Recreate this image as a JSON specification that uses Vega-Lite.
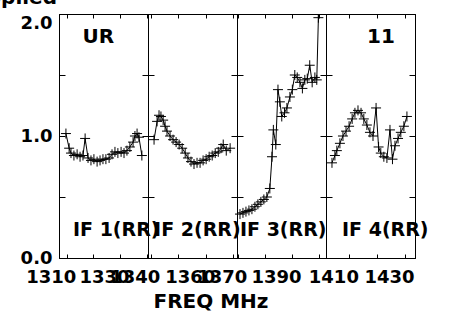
{
  "$schema": "https://vega.github.io/schema/vega-lite/v6.json",
  "width": 356,
  "height": 244,
  "autosize": {"type": "none"},
  "padding": {"left": 59, "top": 14, "right": 34, "bottom": 56},
  "background": "white",
  "config": {
    "view": {"stroke": "black", "strokeWidth": 1},
    "axis": {
      "labelFont": "DejaVu Sans", "labelFontWeight": "bold", "labelFontSize": 18, "labelColor": "black",
      "titleFont": "DejaVu Sans", "titleFontWeight": "bold", "titleFontSize": 20, "titleColor": "black",
      "tickColor": "black", "domainColor": "black", "tickWidth": 1, "domainWidth": 1,
      "grid": false, "labelOverlap": false, "labelFlush": false, "labelBound": false
    },
    "text": {"font": "DejaVu Sans", "fontWeight": "bold", "color": "black"}
  },
  "datasets": {
    "p1": [
      {"freq": 1309.7, "amp": 1.02}, {"freq": 1310.9, "amp": 0.90}, {"freq": 1311.6, "amp": 0.86},
      {"freq": 1312.7, "amp": 0.84}, {"freq": 1313.9, "amp": 0.85}, {"freq": 1315.0, "amp": 0.83},
      {"freq": 1316.1, "amp": 0.84}, {"freq": 1316.9, "amp": 0.98}, {"freq": 1318.0, "amp": 0.82},
      {"freq": 1319.1, "amp": 0.80}, {"freq": 1320.2, "amp": 0.81}, {"freq": 1321.4, "amp": 0.79},
      {"freq": 1322.5, "amp": 0.80}, {"freq": 1323.6, "amp": 0.81}, {"freq": 1324.7, "amp": 0.81},
      {"freq": 1325.9, "amp": 0.82}, {"freq": 1327.0, "amp": 0.85}, {"freq": 1328.1, "amp": 0.87},
      {"freq": 1329.2, "amp": 0.86}, {"freq": 1330.4, "amp": 0.87}, {"freq": 1331.5, "amp": 0.86},
      {"freq": 1332.6, "amp": 0.88}, {"freq": 1333.7, "amp": 0.91}, {"freq": 1334.9, "amp": 0.95},
      {"freq": 1335.6, "amp": 1.00}, {"freq": 1336.4, "amp": 1.02}, {"freq": 1337.1, "amp": 0.99},
      {"freq": 1338.2, "amp": 0.84}
    ],
    "p2": [
      {"freq": 1341.2, "amp": 0.97}, {"freq": 1342.3, "amp": 1.12}, {"freq": 1343.0, "amp": 1.17},
      {"freq": 1343.7, "amp": 1.16}, {"freq": 1344.5, "amp": 1.13}, {"freq": 1345.2, "amp": 1.08},
      {"freq": 1345.9, "amp": 1.04}, {"freq": 1347.0, "amp": 1.00}, {"freq": 1348.1, "amp": 0.97},
      {"freq": 1349.2, "amp": 0.95}, {"freq": 1350.3, "amp": 0.93}, {"freq": 1351.4, "amp": 0.90},
      {"freq": 1352.5, "amp": 0.86}, {"freq": 1353.5, "amp": 0.82}, {"freq": 1354.6, "amp": 0.79},
      {"freq": 1355.7, "amp": 0.77}, {"freq": 1356.8, "amp": 0.78}, {"freq": 1357.9, "amp": 0.78},
      {"freq": 1359.0, "amp": 0.80}, {"freq": 1360.1, "amp": 0.81}, {"freq": 1361.2, "amp": 0.83},
      {"freq": 1362.3, "amp": 0.84}, {"freq": 1363.4, "amp": 0.86}, {"freq": 1364.5, "amp": 0.87},
      {"freq": 1365.5, "amp": 0.90}, {"freq": 1366.3, "amp": 0.93}, {"freq": 1367.4, "amp": 0.88},
      {"freq": 1368.8, "amp": 0.90}
    ],
    "p3": [
      {"freq": 1370.8, "amp": 0.36}, {"freq": 1371.9, "amp": 0.37}, {"freq": 1373.0, "amp": 0.38},
      {"freq": 1374.1, "amp": 0.39}, {"freq": 1375.2, "amp": 0.40}, {"freq": 1376.3, "amp": 0.42},
      {"freq": 1377.4, "amp": 0.44}, {"freq": 1378.5, "amp": 0.46}, {"freq": 1379.6, "amp": 0.48},
      {"freq": 1380.7, "amp": 0.50}, {"freq": 1381.8, "amp": 0.57}, {"freq": 1382.6, "amp": 0.83},
      {"freq": 1383.1, "amp": 1.05}, {"freq": 1384.0, "amp": 0.93}, {"freq": 1384.8, "amp": 1.38},
      {"freq": 1385.5, "amp": 1.28}, {"freq": 1386.2, "amp": 1.16}, {"freq": 1387.2, "amp": 1.19},
      {"freq": 1388.1, "amp": 1.23}, {"freq": 1389.2, "amp": 1.32}, {"freq": 1390.1, "amp": 1.38},
      {"freq": 1391.0, "amp": 1.50}, {"freq": 1391.9, "amp": 1.48}, {"freq": 1392.9, "amp": 1.44},
      {"freq": 1393.8, "amp": 1.39}, {"freq": 1394.7, "amp": 1.46}, {"freq": 1395.6, "amp": 1.47},
      {"freq": 1396.5, "amp": 1.58}, {"freq": 1397.4, "amp": 1.44}, {"freq": 1398.4, "amp": 1.48},
      {"freq": 1399.1, "amp": 1.46}, {"freq": 1399.7, "amp": 1.97}, {"freq": 1400.0, "amp": 3.0}
    ],
    "p4": [
      {"freq": 1403.75, "amp": 0.78}, {"freq": 1404.8, "amp": 0.84}, {"freq": 1405.5, "amp": 0.88},
      {"freq": 1406.6, "amp": 0.94}, {"freq": 1407.7, "amp": 1.00}, {"freq": 1408.8, "amp": 1.04},
      {"freq": 1409.9, "amp": 1.08}, {"freq": 1411.0, "amp": 1.14}, {"freq": 1412.0, "amp": 1.19},
      {"freq": 1413.1, "amp": 1.21}, {"freq": 1414.2, "amp": 1.19}, {"freq": 1415.2, "amp": 1.14},
      {"freq": 1416.3, "amp": 1.09}, {"freq": 1417.4, "amp": 1.03}, {"freq": 1418.5, "amp": 1.00},
      {"freq": 1419.6, "amp": 1.23}, {"freq": 1420.5, "amp": 0.91}, {"freq": 1421.3, "amp": 0.86},
      {"freq": 1422.4, "amp": 0.83}, {"freq": 1423.5, "amp": 0.82}, {"freq": 1424.6, "amp": 1.05},
      {"freq": 1425.5, "amp": 0.81}, {"freq": 1426.4, "amp": 0.92}, {"freq": 1427.5, "amp": 0.98},
      {"freq": 1428.5, "amp": 1.03}, {"freq": 1429.6, "amp": 1.08}, {"freq": 1430.7, "amp": 1.16}
    ]
  },
  "layer": [
    {
      "data": {"name": "p1"},
      "layer": [
        {
          "mark": {"type": "line", "color": "black", "strokeWidth": 1, "clip": true},
          "encoding": {
            "x": {"field": "freq", "type": "quantitative",
              "scale": {"domain": [1307.1, 1340.5], "range": [0, 89], "nice": false, "zero": false},
              "axis": {"orient": "bottom", "values": [1310, 1320, 1330, 1340], "format": "d", "tickSize": -4, "labelPadding": 14, "labelOffset": -16,
                "labelExpr": "datum.value == 1310 || datum.value == 1330 ? datum.label : ''", "title": null}},
            "y": {"field": "amp", "type": "quantitative",
              "scale": {"domain": [0, 2], "nice": false, "zero": false},
              "axis": {"orient": "left", "values": [0, 0.5, 1, 1.5, 2], "format": ".1f", "tickSize": -6, "labelPadding": 13,
                "labelExpr": "datum.value == 0 || datum.value == 1 || datum.value == 2 ? datum.label : ''",
                "labelBaseline": {"condition": {"test": "datum.value == 2", "value": "top"}, "value": "middle"},
                "title": null}}
          }
        },
        {
          "mark": {"type": "point", "shape": "M-1,0L1,0M0,-1L0,1", "size": 100, "filled": false, "color": "black", "strokeWidth": 1, "opacity": 1, "clip": true},
          "encoding": {
            "x": {"field": "freq", "type": "quantitative",
              "scale": {"domain": [1307.1, 1340.5], "range": [0, 89], "nice": false, "zero": false},
              "axis": {"orient": "top", "values": [1310, 1320, 1330, 1340], "tickSize": -4, "labels": false, "title": null}},
            "y": {"field": "amp", "type": "quantitative",
              "scale": {"domain": [0, 2], "nice": false, "zero": false},
              "axis": {"orient": "right", "offset": -267, "values": [0, 0.5, 1, 1.5, 2], "tickSize": -6, "labels": false, "title": null}}
          }
        },
        {
          "data": {"values": [{}]},
          "mark": {"type": "text", "text": "UR", "fontSize": 20, "align": "center", "baseline": "alphabetic"},
          "encoding": {
            "x": {"datum": 1321.9, "type": "quantitative", "axis": null, "scale": {"domain": [1307.1, 1340.5], "range": [0, 89], "nice": false, "zero": false}},
            "y": {"datum": 1.762, "type": "quantitative", "axis": null, "scale": {"domain": [0, 2], "nice": false, "zero": false}}
          }
        },
        {
          "data": {"values": [{}]},
          "mark": {"type": "text", "text": "IF 1(RR)", "fontSize": 19, "align": "left", "baseline": "alphabetic"},
          "encoding": {
            "x": {"datum": 1312.35, "type": "quantitative", "axis": null, "scale": {"domain": [1307.1, 1340.5], "range": [0, 89], "nice": false, "zero": false}},
            "y": {"datum": 0.18, "type": "quantitative", "axis": null, "scale": {"domain": [0, 2], "nice": false, "zero": false}}
          }
        },
        {
          "data": {"values": [{}]},
          "mark": {"type": "text", "text": "Applied", "fontSize": 20, "align": "right", "baseline": "alphabetic", "dx": -2, "dy": -10},
          "encoding": {
            "x": {"datum": 1307.1, "type": "quantitative", "axis": null, "scale": {"domain": [1307.1, 1340.5], "range": [0, 89], "nice": false, "zero": false}},
            "y": {"datum": 2, "type": "quantitative", "axis": null, "scale": {"domain": [0, 2], "nice": false, "zero": false}}
          }
        }
      ],
      "resolve": {"axis": {"x": "independent", "y": "independent"}}
    },
    {
      "data": {"name": "p2"},
      "layer": [
        {
          "mark": {"type": "line", "color": "black", "strokeWidth": 1, "clip": true},
          "encoding": {
            "x": {"field": "freq", "type": "quantitative",
              "scale": {"domain": [1339.0, 1371.3], "range": [89, 178], "nice": false, "zero": false},
              "axis": {"orient": "bottom", "values": [1340, 1350, 1360, 1370], "format": "d", "tickSize": -4, "labelPadding": 14, "labelOffset": -16,
                "labelExpr": "datum.value == 1340 || datum.value == 1360 ? datum.label : ''",
                "title": "FREQ MHz", "titleX": 151.5, "titleY": 49, "titleBaseline": "alphabetic", "titleAlign": "center"}},
            "y": {"field": "amp", "type": "quantitative",
              "scale": {"domain": [0, 2], "nice": false, "zero": false},
              "axis": {"orient": "left", "offset": -89, "values": [0, 0.5, 1, 1.5, 2], "tickSize": -6, "labels": false, "title": null}}
          }
        },
        {
          "mark": {"type": "point", "shape": "M-1,0L1,0M0,-1L0,1", "size": 100, "filled": false, "color": "black", "strokeWidth": 1, "opacity": 1, "clip": true},
          "encoding": {
            "x": {"field": "freq", "type": "quantitative",
              "scale": {"domain": [1339.0, 1371.3], "range": [89, 178], "nice": false, "zero": false},
              "axis": {"orient": "top", "values": [1340, 1350, 1360, 1370], "tickSize": -4, "labels": false, "title": null}},
            "y": {"field": "amp", "type": "quantitative",
              "scale": {"domain": [0, 2], "nice": false, "zero": false},
              "axis": {"orient": "right", "offset": -178, "values": [0, 0.5, 1, 1.5, 2], "tickSize": -6, "labels": false, "title": null}}
          }
        },
        {
          "data": {"values": [{}]},
          "mark": {"type": "text", "text": "IF 2(RR)", "fontSize": 19, "align": "left", "baseline": "alphabetic"},
          "encoding": {
            "x": {"datum": 1341.2, "type": "quantitative", "axis": null, "scale": {"domain": [1339.0, 1371.3], "range": [89, 178], "nice": false, "zero": false}},
            "y": {"datum": 0.18, "type": "quantitative", "axis": null, "scale": {"domain": [0, 2], "nice": false, "zero": false}}
          }
        }
      ],
      "resolve": {"axis": {"x": "independent", "y": "independent"}}
    },
    {
      "data": {"name": "p3"},
      "layer": [
        {
          "mark": {"type": "line", "color": "black", "strokeWidth": 1, "clip": true},
          "encoding": {
            "x": {"field": "freq", "type": "quantitative",
              "scale": {"domain": [1369.7, 1402.5], "range": [178, 267], "nice": false, "zero": false},
              "axis": {"orient": "bottom", "values": [1370, 1380, 1390, 1400], "format": "d", "tickSize": -4, "labelPadding": 14, "labelOffset": -16,
                "labelExpr": "datum.value == 1370 || datum.value == 1390 ? datum.label : ''", "title": null}},
            "y": {"field": "amp", "type": "quantitative",
              "scale": {"domain": [0, 2], "nice": false, "zero": false},
              "axis": {"orient": "left", "offset": -178, "values": [0, 0.5, 1, 1.5, 2], "tickSize": -6, "labels": false, "title": null}}
          }
        },
        {
          "mark": {"type": "point", "shape": "M-1,0L1,0M0,-1L0,1", "size": 100, "filled": false, "color": "black", "strokeWidth": 1, "opacity": 1, "clip": true},
          "encoding": {
            "x": {"field": "freq", "type": "quantitative",
              "scale": {"domain": [1369.7, 1402.5], "range": [178, 267], "nice": false, "zero": false},
              "axis": {"orient": "top", "values": [1370, 1380, 1390, 1400], "tickSize": -4, "labels": false, "title": null}},
            "y": {"field": "amp", "type": "quantitative",
              "scale": {"domain": [0, 2], "nice": false, "zero": false},
              "axis": {"orient": "right", "offset": -89, "values": [0, 0.5, 1, 1.5, 2], "tickSize": -6, "labels": false, "title": null}}
          }
        },
        {
          "data": {"values": [{}]},
          "mark": {"type": "text", "text": "IF 3(RR)", "fontSize": 19, "align": "left", "baseline": "alphabetic"},
          "encoding": {
            "x": {"datum": 1370.8, "type": "quantitative", "axis": null, "scale": {"domain": [1369.7, 1402.5], "range": [178, 267], "nice": false, "zero": false}},
            "y": {"datum": 0.18, "type": "quantitative", "axis": null, "scale": {"domain": [0, 2], "nice": false, "zero": false}}
          }
        }
      ],
      "resolve": {"axis": {"x": "independent", "y": "independent"}}
    },
    {
      "data": {"name": "p4"},
      "layer": [
        {
          "mark": {"type": "line", "color": "black", "strokeWidth": 1, "clip": true},
          "encoding": {
            "x": {"field": "freq", "type": "quantitative",
              "scale": {"domain": [1401.6, 1433.6], "range": [267, 356], "nice": false, "zero": false},
              "axis": {"orient": "bottom", "values": [1410, 1420, 1430], "format": "d", "tickSize": -4, "labelPadding": 14, "labelOffset": -16,
                "labelExpr": "datum.value == 1410 || datum.value == 1430 ? datum.label : ''", "title": null}},
            "y": {"field": "amp", "type": "quantitative",
              "scale": {"domain": [0, 2], "nice": false, "zero": false},
              "axis": {"orient": "left", "offset": -267, "values": [0, 0.5, 1, 1.5, 2], "tickSize": -6, "labels": false, "title": null}}
          }
        },
        {
          "mark": {"type": "point", "shape": "M-1,0L1,0M0,-1L0,1", "size": 100, "filled": false, "color": "black", "strokeWidth": 1, "opacity": 1, "clip": true},
          "encoding": {
            "x": {"field": "freq", "type": "quantitative",
              "scale": {"domain": [1401.6, 1433.6], "range": [267, 356], "nice": false, "zero": false},
              "axis": {"orient": "top", "values": [1410, 1420, 1430], "tickSize": -4, "labels": false, "title": null}},
            "y": {"field": "amp", "type": "quantitative",
              "scale": {"domain": [0, 2], "nice": false, "zero": false},
              "axis": {"orient": "right", "offset": 0, "values": [0, 0.5, 1, 1.5, 2], "tickSize": -6, "labels": false, "title": null}}
          }
        },
        {
          "data": {"values": [{}]},
          "mark": {"type": "text", "text": "11", "fontSize": 20, "align": "center", "baseline": "alphabetic"},
          "encoding": {
            "x": {"datum": 1421.35, "type": "quantitative", "axis": null, "scale": {"domain": [1401.6, 1433.6], "range": [267, 356], "nice": false, "zero": false}},
            "y": {"datum": 1.762, "type": "quantitative", "axis": null, "scale": {"domain": [0, 2], "nice": false, "zero": false}}
          }
        },
        {
          "data": {"values": [{}]},
          "mark": {"type": "text", "text": "IF 4(RR)", "fontSize": 19, "align": "left", "baseline": "alphabetic"},
          "encoding": {
            "x": {"datum": 1407.35, "type": "quantitative", "axis": null, "scale": {"domain": [1401.6, 1433.6], "range": [267, 356], "nice": false, "zero": false}},
            "y": {"datum": 0.18, "type": "quantitative", "axis": null, "scale": {"domain": [0, 2], "nice": false, "zero": false}}
          }
        }
      ],
      "resolve": {"axis": {"x": "independent", "y": "independent"}}
    }
  ],
  "resolve": {"scale": {"x": "independent"}, "axis": {"x": "independent", "y": "independent"}}
}
